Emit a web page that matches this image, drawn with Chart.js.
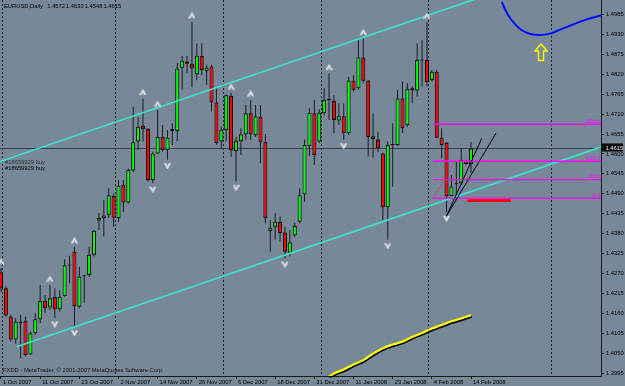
<!DOCTYPE html>
<html><head><meta charset="utf-8">
<script src="https://cdn.jsdelivr.net/npm/chart.js@4.4.0/dist/chart.umd.min.js"></script>
<style>html,body{margin:0;padding:0;background:#778899;overflow:hidden}#wrap{width:625px;height:386px}</style>
</head><body><div id="wrap"><canvas id="c" width="625" height="386"></canvas></div>
<script>
// ---------------- data ----------------
const symbolName = 'EURUSD,Daily';
const headerQuote = ['1.4572', '1.4633', '1.4548', '1.4615'];
const footerText = 'FXDD - MetaTrader, \u00a9 2001-2007 MetaQuotes Software Corp.';
const dateLabels = ['1 Oct 2007','11 Oct 2007','23 Oct 2007','2 Nov 2007','14 Nov 2007','26 Nov 2007','6 Dec 2007','18 Dec 2007','31 Dec 2007','11 Jan 2008','23 Jan 2008','4 Feb 2008','14 Feb 2008'];
const dateLabelStep = 8;
const priceTicks = [1.4985,1.4930,1.4875,1.4820,1.4765,1.4710,1.4655,1.4600,1.4545,1.4490,1.4435,1.4380,1.4325,1.4270,1.4215,1.4160,1.4105,1.4050,1.3995];

const opens = [
1.4273,1.4229,1.4151,1.4088,1.4137,1.4139,1.4047,1.4105,1.4144,1.4195,
1.4176,1.4205,1.4171,1.4208,1.4292,1.4330,1.4178,1.4262,1.4266,1.4322,
1.4416,1.4423,1.4432,1.4484,1.4423,1.4514,1.4466,1.4554,1.4634,1.4677,
1.4669,1.4528,1.4601,1.4647,1.4611,1.4669,1.4663,1.4838,1.4855,1.4849,
1.4820,1.4870,1.4829,1.4841,1.4742,1.4634,1.4666,1.4760,1.4608,1.4636,
1.4654,1.4712,1.4652,1.4702,1.4632,1.4387,1.4399,1.4413,1.4383,1.4327,
1.4375,1.4413,1.4489,1.4622,1.4712,1.4634,1.4712,1.4751,1.4747,1.4692,
1.4704,1.4657,1.4802,1.4781,1.4866,1.4803,1.4649,1.4640,1.4601,1.4453,
1.4625,1.4625,1.4753,1.4680,1.4781,1.4775,1.4858,1.4859,1.4804,1.4827,
1.4645,1.4630,1.4484,1.4516,1.4519,1.4581,1.4572];
const highs = [
1.4285,1.4235,1.4156,1.4147,1.4156,1.4151,1.4110,1.4161,1.4238,1.4211,
1.4238,1.4229,1.4224,1.4309,1.4319,1.4344,1.4289,1.4266,1.4344,1.4390,
1.4437,1.4473,1.4505,1.4491,1.4528,1.4528,1.4560,1.4731,1.4702,1.4753,
1.4671,1.4606,1.4721,1.4680,1.4666,1.4685,1.4851,1.4870,1.4870,1.4965,
1.4905,1.4905,1.4846,1.4846,1.4781,1.4675,1.4765,1.4768,1.4647,1.4671,
1.4735,1.4749,1.4735,1.4735,1.4655,1.4418,1.4436,1.4427,1.4399,1.4390,
1.4410,1.4505,1.4639,1.4726,1.4749,1.4723,1.4781,1.4822,1.4762,1.4740,
1.4740,1.4813,1.4818,1.4914,1.4919,1.4804,1.4712,1.4661,1.4603,1.4634,
1.4685,1.4777,1.4800,1.4795,1.4786,1.4905,1.4914,1.4964,1.4832,1.4832,
1.4671,1.4633,1.4541,1.4579,1.4616,1.4584,1.4633];
const lows = [
1.4219,1.4150,1.4082,1.4077,1.4036,1.4041,1.4045,1.4101,1.4133,1.4161,
1.4169,1.4147,1.4165,1.4206,1.4243,1.4123,1.4174,1.4189,1.4261,1.4317,
1.4390,1.4372,1.4423,1.4399,1.4413,1.4440,1.4464,1.4551,1.4611,1.4634,
1.4524,1.4519,1.4600,1.4606,1.4584,1.4625,1.4634,1.4777,1.4823,1.4784,
1.4804,1.4818,1.4791,1.4717,1.4625,1.4616,1.4634,1.4592,1.4524,1.4597,
1.4639,1.4639,1.4647,1.4574,1.4409,1.4330,1.4363,1.4358,1.4312,1.4317,
1.4370,1.4409,1.4468,1.4594,1.4570,1.4630,1.4707,1.4694,1.4657,1.4680,
1.4639,1.4652,1.4772,1.4777,1.4795,1.4592,1.4590,1.4606,1.4418,1.4363,
1.4510,1.4622,1.4658,1.4675,1.4740,1.4758,1.4786,1.4786,1.4800,1.4643,
1.4588,1.4439,1.4483,1.4475,1.4514,1.4570,1.4548];
const closes = [
1.4229,1.4154,1.4088,1.4137,1.4133,1.4045,1.4105,1.4144,1.4195,1.4174,
1.4202,1.4171,1.4206,1.4293,1.4295,1.4180,1.4261,1.4265,1.4322,1.4388,
1.4423,1.4430,1.4486,1.4424,1.4512,1.4466,1.4556,1.4632,1.4675,1.4668,
1.4528,1.4601,1.4647,1.4611,1.4645,1.4663,1.4836,1.4857,1.4849,1.4836,
1.4871,1.4832,1.4838,1.4742,1.4630,1.4666,1.4762,1.4611,1.4636,1.4654,
1.4712,1.4654,1.4704,1.4632,1.4423,1.4396,1.4412,1.4382,1.4330,1.4356,
1.4401,1.4486,1.4625,1.4714,1.4597,1.4714,1.4749,1.4749,1.4694,1.4704,
1.4658,1.4803,1.4777,1.4866,1.4802,1.4647,1.4641,1.4616,1.4453,1.4625,
1.4627,1.4753,1.4671,1.4779,1.4775,1.4859,1.4860,1.4798,1.4827,1.4645,
1.4625,1.4484,1.4510,1.4519,1.4584,1.4572,1.4615];

const bidPrice = 1.4615;
const fractalUpBars = [0,10,15,29,32,39,47,51,67,74,87];
const fractalDownBars = [11,15,31,34,48,58,70,79,91];
const monthSeparatorBars = [0,23,45,65,87,112];
const xRange = [-0.204, 122.55];
const channelUpper = [{x:-0.2,y:1.4579},{x:122.55,y:1.5146}];
const channelLower = [{x:3.2,y:1.4068},{x:122.55,y:1.4619}];
const fibLevels = [0, 50, 100, 200];
const fibAnchor = {startBar:88.2, endBar:92.9, level0:1.4478, level100:1.4580};
const redSegment = [{x:95.2,y:1.4471},{x:104.1,y:1.4471}];
const fanLine1 = [{x:91,y:1.4429},{x:98.2,y:1.4643}];
const fanLine2 = [{x:91,y:1.4429},{x:101.1,y:1.4657}];
const yellowBars = [66,68,70,72,74,76,78,80,82,84,86,88,90,92,94,96];
const yellowValues = [1.3975,1.3994,1.4005,1.4019,1.4031,1.4049,1.4064,1.4074,1.4082,1.4095,1.4106,1.4118,1.4128,1.4138,1.4146,1.4155];
const blueArcBars = [102.3,102.7,103.6,104.8,106.3,108.1,110.1,112.1,114.2,116.6,119.3,122.55,124];
const blueArcValues = [1.5020,1.5007,1.4983,1.4961,1.4942,1.4931,1.4928,1.4932,1.4943,1.4956,1.4970,1.4983,1.4992];
const yellowArrowPoint = {x:110.3, y:1.4880};
const orderLabels = [{text:'#18659929 buy', price:1.4576, color:'#2a2f36'}, {text:'#18659929 buy', price:1.4561, color:'#000'}];

// ---------------- helpers ----------------
const FONT_FAMILY = '"Liberation Sans", Arial, sans-serif';
const FS = 5.8;
const fontStr = s => `${s}px ${FONT_FAMILY}`;

function fractalGlyph(up) {
  const c = document.createElement('canvas');
  c.width = 7; c.height = 19;
  const g = c.getContext('2d');
  g.fillStyle = '#e9e9e9';
  g.strokeStyle = '#bfc3c8';
  g.lineWidth = 0.6;
  const pts = [[0,6],[3.5,0],[7,6],[5,6],[3.5,3.3],[2,6]];
  g.beginPath();
  pts.forEach((p,k)=>{ const y = up ? p[1] : 19 - p[1]; k ? g.lineTo(p[0], y) : g.moveTo(p[0], y); });
  g.closePath(); g.fill(); g.stroke();
  return c;
}
function hollowArrow() {
  const c = document.createElement('canvas');
  c.width = 14; c.height = 19;
  const g = c.getContext('2d');
  g.strokeStyle = '#ffff00'; g.lineWidth = 1.4;
  g.beginPath();
  g.moveTo(7,1); g.lineTo(13,8); g.lineTo(9.5,8); g.lineTo(9.5,17.5); g.lineTo(4.5,17.5); g.lineTo(4.5,8); g.lineTo(1,8); g.closePath();
  g.stroke();
  return c;
}

const bodyData = opens.map((o,i)=>({x:i, y:[Math.min(o,closes[i]), Math.max(o,closes[i])]}));
const wickData = lows.map((l,i)=>({x:i, y:[l, highs[i]]}));
const bodyColors = opens.map((o,i)=> closes[i] >= o ? '#00ff00' : '#ff0000');
const fibPrice = lvl => fibAnchor.level0 + (fibAnchor.level100 - fibAnchor.level0) * lvl / 100;

const lineDs = (data, color, width, order, extra) => Object.assign({
  type:'line', data, borderColor:color, borderWidth:width, pointRadius:0, fill:false, tension:0, order
}, extra || {});

const datasets = [
  {type:'bar', label:'wicks', data:wickData, backgroundColor:'#1c1c1c', borderWidth:0, barThickness:1, grouped:false, order:20, inflateAmount:0},
  {type:'bar', label:'bodies', data:bodyData, backgroundColor:bodyColors, borderColor:'#000', borderWidth:1, borderSkipped:false, barThickness:4, grouped:false, minBarLength:1, order:19, inflateAmount:0},
  lineDs(channelUpper, '#40e0d0', 1.6, 10),
  lineDs(channelLower, '#40e0d0', 1.6, 10),
];
fibLevels.forEach(l => datasets.push(lineDs([{x:fibAnchor.startBar,y:fibPrice(l)},{x:xRange[1]+2,y:fibPrice(l)}], '#ff00ff', 1.4, 9)));
datasets.push(lineDs([{x:fibAnchor.startBar,y:fibAnchor.level0},{x:fibAnchor.endBar,y:fibAnchor.level100}], '#ff2020', 1, 8, {borderDash:[1.5,2]}));
datasets.push(lineDs(redSegment, '#ff0000', 2.6, 8));
datasets.push(lineDs(fanLine1, '#000', 1, 7));
datasets.push(lineDs(fanLine2, '#000', 1, 7));
const yellowData = yellowBars.map((b,k)=>({x:b, y:yellowValues[k]}));
datasets.push(lineDs(yellowData, '#000', 2.2, 6, {shadowShift:true, cubicInterpolationMode:'monotone'}));
datasets.push(lineDs(yellowData, '#ffff00', 2.2, 5, {cubicInterpolationMode:'monotone'}));
datasets.push(lineDs(blueArcBars.map((b,k)=>({x:b,y:blueArcValues[k]})), '#0010ff', 2, 5, {cubicInterpolationMode:'monotone'}));
datasets.push({type:'line', data:fractalUpBars.map(i=>({x:i,y:highs[i]})), showLine:false, pointStyle:fractalGlyph(true), pointRadius:3, order:4});
datasets.push({type:'line', data:fractalDownBars.map(i=>({x:i,y:lows[i]})), showLine:false, pointStyle:fractalGlyph(false), pointRadius:3, order:4});
datasets.push({type:'line', data:[yellowArrowPoint], showLine:false, pointStyle:hollowArrow(), pointRadius:3, order:4});

const decor = {
  id:'decor',
  beforeDraw(chart){
    const ctx = chart.ctx;
    ctx.save(); ctx.fillStyle = '#778899'; ctx.fillRect(0,0,chart.width,chart.height); ctx.restore();
  },
  beforeDatasetsDraw(chart){
    const {ctx, chartArea:a, scales:{x, y}} = chart;
    ctx.save();
    ctx.strokeStyle = '#23272d'; ctx.lineWidth = 1; ctx.setLineDash([2,2]);
    monthSeparatorBars.forEach(b => {
      const px = Math.round(x.getPixelForValue(b + 0.3)) + 0.5;
      ctx.beginPath(); ctx.moveTo(px, a.top); ctx.lineTo(px, a.bottom); ctx.stroke();
    });
    ctx.setLineDash([]);
    ctx.strokeStyle = '#3b4149'; ctx.lineWidth = 1.2;
    const by = Math.round(y.getPixelForValue(bidPrice)) + 0.5;
    ctx.beginPath(); ctx.moveTo(a.left, by); ctx.lineTo(a.right, by); ctx.stroke();
    ctx.restore();
  },
  beforeDatasetDraw(chart, args){
    if (args.meta && chart.data.datasets[args.index].shadowShift){ chart.ctx.save(); chart.ctx.translate(0.8, 1.4); }
  },
  afterDatasetDraw(chart, args){
    if (args.meta && chart.data.datasets[args.index].shadowShift){ chart.ctx.restore(); }
  },
  afterDraw(chart){
    const {ctx, chartArea:a, scales:{x, y}} = chart;
    ctx.save();
    ctx.font = fontStr(FS);
    ctx.textBaseline = 'middle';
    // header
    ctx.fillStyle = '#000';
    ctx.textAlign = 'left';
    ctx.fillText(symbolName, 4, 6.5);
    headerQuote.forEach((q,k)=> ctx.fillText(q, 47.3 + k*18.7, 6.5));
    // footer
    ctx.fillStyle = '#111';
    ctx.fillText(footerText, 3, a.bottom - 5.5);
    // order labels
    orderLabels.forEach(o => { ctx.fillStyle = o.color; ctx.fillText(o.text, 5, y.getPixelForValue(o.price)); });
    // fib labels
    ctx.fillStyle = '#ff00ff'; ctx.textAlign = 'right'; ctx.textBaseline = 'bottom';
    fibLevels.forEach(l => ctx.fillText(l.toFixed(1), a.right - 0.5, y.getPixelForValue(fibPrice(l)) - 0.3));
    // current price box
    const by = y.getPixelForValue(bidPrice);
    ctx.fillStyle = '#000';
    ctx.fillRect(a.right + 1, Math.round(by) - 4.5, 21, 8);
    ctx.fillStyle = '#fff'; ctx.textAlign = 'left'; ctx.textBaseline = 'middle';
    ctx.fillText(bidPrice.toFixed(4), a.right + 4.5, by - 0.5);
    ctx.restore();
  }
};

const noPad = (s) => { s.paddingLeft = 0; s.paddingRight = 0; s.paddingTop = 0; s.paddingBottom = 0; };

new Chart(document.getElementById('c'), {
  type:'bar',
  data:{datasets},
  options:{
    responsive:false, animation:false, devicePixelRatio:1,
    layout:{padding:0, autoPadding:false},
    plugins:{legend:{display:false}, tooltip:{enabled:false}},
    scales:{
      x:{
        type:'linear', position:'bottom', min:xRange[0], max:xRange[1], offset:false,
        grid:{display:true, drawOnChartArea:false, drawTicks:true, tickLength:3, color:'#1a1a1a', offset:false},
        border:{display:true, color:'#1a1a1a', width:1},
        ticks:{font:{family:FONT_FAMILY, size:FS}, color:'#000', align:'start', labelOffset:2, padding:0, maxRotation:0, minRotation:0, autoSkip:false,
          callback:(v)=> dateLabels[Math.round(v / dateLabelStep)] || ''},
        afterBuildTicks:(s)=>{ s.ticks = dateLabels.map((_,k)=>({value:k*dateLabelStep})); },
        afterFit:(s)=>{ s.height = 10; noPad(s); }
      },
      y:{
        type:'linear', position:'right', min:1.39871, max:1.502486, beginAtZero:false,
        grid:{display:true, drawOnChartArea:false, drawTicks:true, tickLength:3, color:'#1a1a1a'},
        border:{display:true, color:'#1a1a1a', width:1},
        ticks:{font:{family:FONT_FAMILY, size:FS}, color:'#000', padding:2, callback:(v)=> Number(v).toFixed(4)},
        afterBuildTicks:(s)=>{ s.ticks = priceTicks.map(v=>({value:v})); },
        afterFit:(s)=>{ s.width = 24; noPad(s); }
      }
    }
  },
  plugins:[decor]
});
</script>
</body></html>
